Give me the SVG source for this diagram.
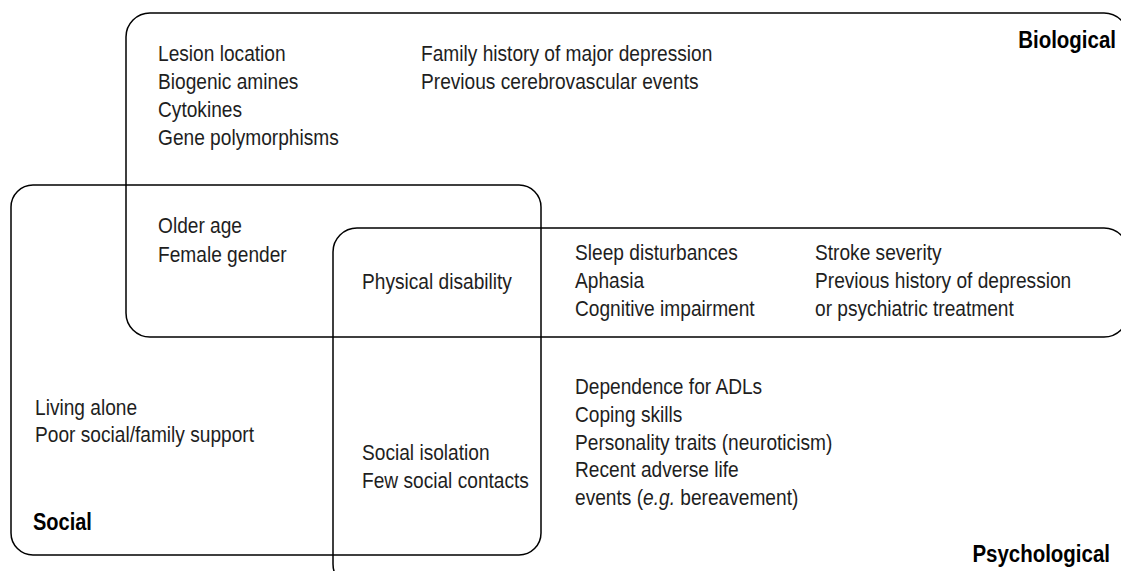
<svg xmlns="http://www.w3.org/2000/svg" width="1121" height="571" viewBox="0 0 1121 571">
<style>
.box{fill:none;stroke:#000;stroke-width:1.5}
.t{font-family:"Liberation Sans",Arial,sans-serif;font-size:22px;fill:#1e1e1e}
.h{font-family:"Liberation Sans",Arial,sans-serif;font-size:23px;font-weight:bold;fill:#000}
</style>
<rect width="1121" height="571" fill="#fff"/>
<g id="connectors"></g>
<g id="biological">
<rect class="box" x="126" y="13" width="1002" height="324" rx="24" ry="24"/>
<text class="h" transform="translate(1116,48) scale(0.89,1)" text-anchor="end">Biological</text>
<text class="t" transform="translate(158,61) scale(0.87,1)">Lesion location</text>
<text class="t" transform="translate(158,89) scale(0.87,1)">Biogenic amines</text>
<text class="t" transform="translate(158,117) scale(0.87,1)">Cytokines</text>
<text class="t" transform="translate(158,145) scale(0.87,1)">Gene polymorphisms</text>
<text class="t" transform="translate(421,61) scale(0.87,1)">Family history of major depression</text>
<text class="t" transform="translate(421,89) scale(0.87,1)">Previous cerebrovascular events</text>
</g>
<g id="social">
<rect class="box" x="11" y="185" width="530" height="370" rx="22" ry="22"/>
<text class="h" transform="translate(33,530) scale(0.87,1)">Social</text>
<text class="t" transform="translate(35,415) scale(0.87,1)">Living alone</text>
<text class="t" transform="translate(35,442) scale(0.87,1)">Poor social/family support</text>
</g>
<g id="psychological">
<rect class="box" x="333" y="228" width="795" height="360" rx="24" ry="24"/>
<text class="h" transform="translate(1110,562) scale(0.89,1)" text-anchor="end">Psychological</text>
</g>
<g id="bio-social">
<text class="t" transform="translate(158,233) scale(0.87,1)">Older age</text>
<text class="t" transform="translate(158,262) scale(0.87,1)">Female gender</text>
</g>
<g id="all-three">
<text class="t" transform="translate(362,289) scale(0.87,1)">Physical disability</text>
</g>
<g id="bio-psych">
<text class="t" transform="translate(575,260) scale(0.87,1)">Sleep disturbances</text>
<text class="t" transform="translate(575,288) scale(0.87,1)">Aphasia</text>
<text class="t" transform="translate(575,316) scale(0.87,1)">Cognitive impairment</text>
<text class="t" transform="translate(815,260) scale(0.87,1)">Stroke severity</text>
<text class="t" transform="translate(815,288) scale(0.87,1)">Previous history of depression</text>
<text class="t" transform="translate(815,316) scale(0.87,1)">or psychiatric treatment</text>
</g>
<g id="social-psych">
<text class="t" transform="translate(362,460) scale(0.87,1)">Social isolation</text>
<text class="t" transform="translate(362,488) scale(0.87,1)">Few social contacts</text>
</g>
<g id="psych-only">
<text class="t" transform="translate(575,394) scale(0.87,1)">Dependence for ADLs</text>
<text class="t" transform="translate(575,422) scale(0.87,1)">Coping skills</text>
<text class="t" transform="translate(575,450) scale(0.87,1)">Personality traits (neuroticism)</text>
<text class="t" transform="translate(575,477) scale(0.87,1)">Recent adverse life</text>
<text class="t" transform="translate(575,505) scale(0.87,1)">events (<tspan font-style="italic">e.g.</tspan> bereavement)</text>
</g>
</svg>
